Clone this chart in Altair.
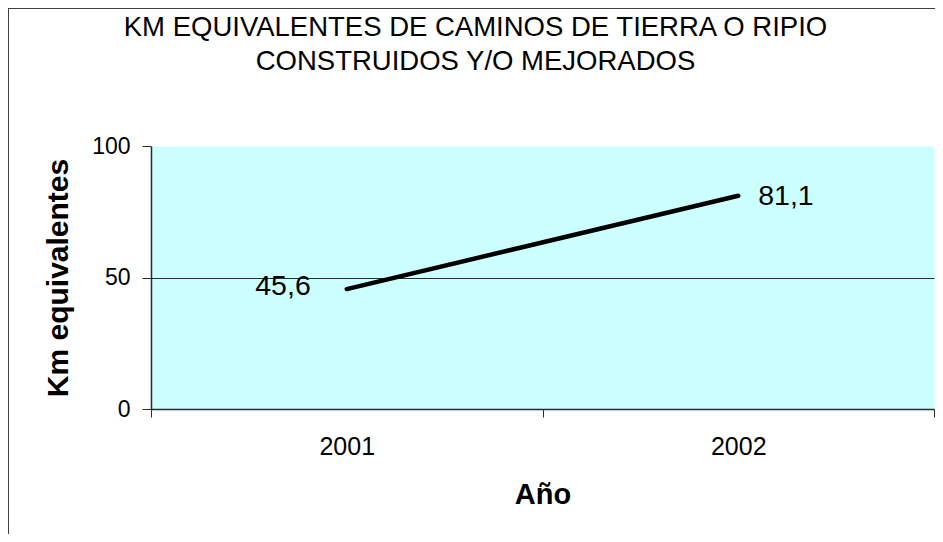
import altair as alt
import pandas as pd

# ---- data ----
years = ["2001", "2002"]
km = [45.6, 81.1]
value_labels = ["45,6", "81,1"]
y_ticks = [0, 50, 100]
title_lines = ["KM EQUIVALENTES DE CAMINOS DE TIERRA O RIPIO", "CONSTRUIDOS Y/O MEJORADOS"]

df = pd.DataFrame({"Año": years, "Km": km, "Etiqueta": value_labels})
frame_df = pd.DataFrame({"f": [0]})

FONT = "Liberation Sans"
AXIS = "#2b2b2b"

x_enc = alt.X(
    "Año:N",
    bandPosition=0.5,
    scale=alt.Scale(type="band", domain=years, paddingInner=0, paddingOuter=0),
    axis=alt.Axis(
        title="Año",
        titleFont=FONT,
        titleFontSize=29,
        titleFontWeight="bold",
        titleColor="black",
        titleY=85,
        titleBaseline="middle",
        labelFont=FONT,
        labelFontSize=25,
        labelColor="black",
        labelAngle=0,
        labelPadding=17,
        tickBand="extent",
        tickSize=8,
        tickColor=AXIS,
        domainColor=AXIS,
        domainWidth=1.5,
        grid=False,
    ),
)

y_enc = alt.Y(
    "Km:Q",
    scale=alt.Scale(domain=[0, 100], nice=False, zero=True),
    axis=alt.Axis(
        title="Km equivalentes",
        titleFont=FONT,
        titleFontSize=30,
        titleFontWeight="bold",
        titleColor="black",
        titleAngle=-90,
        titleX=-93,
        titleY=131.5,
        titleAlign="center",
        titleBaseline="middle",
        values=y_ticks,
        labelFont=FONT,
        labelFontSize=23,
        labelColor="black",
        labelPadding=12,
        tickSize=9,
        tickColor=AXIS,
        domainColor=AXIS,
        domainWidth=1.5,
        grid=True,
        gridColor={"condition": {"test": "datum.value === 100", "value": "transparent"}, "value": AXIS},
        gridWidth=1,
    ),
)

base = alt.Chart(df)

line = base.mark_line(color="black", strokeWidth=4.5, strokeCap="round").encode(x=x_enc, y=y_enc)

lab_left = base.transform_filter(alt.datum["Año"] == "2001").mark_text(
    font=FONT, fontSize=28.5, color="black", align="right", baseline="middle", dx=-36, dy=-3
).encode(x=x_enc, y=y_enc, text="Etiqueta:N")

lab_right = base.transform_filter(alt.datum["Año"] == "2002").mark_text(
    font=FONT, fontSize=28.5, color="black", align="left", baseline="middle", dx=20, dy=0
).encode(x=x_enc, y=y_enc, text="Etiqueta:N")

frame = alt.Chart(frame_df).mark_rect(fillOpacity=0, stroke="#404040", strokeWidth=2).encode(
    x=alt.value(-143), x2=alt.value(2000), y=alt.value(-138), y2=alt.value(2000)
)

chart = (
    alt.layer(frame, line, lab_left, lab_right)
    .properties(
        width=783,
        height=263,
        autosize=alt.AutoSizeParams(type="none"),
        padding={"left": 143, "top": 138, "right": 1, "bottom": 125},
        background="white",
        title=alt.TitleParams(
            text=title_lines,
            font=FONT,
            fontSize=27.5,
            fontWeight="normal",
            color="black",
            lineHeight=34,
            anchor="middle",
            dx=-67,
            offset=-68,
        ),
    )
    .configure_view(fill="#CCFFFF", stroke="transparent")
)

chart.save("out.html", embed_options={"renderer": "svg", "actions": False})
